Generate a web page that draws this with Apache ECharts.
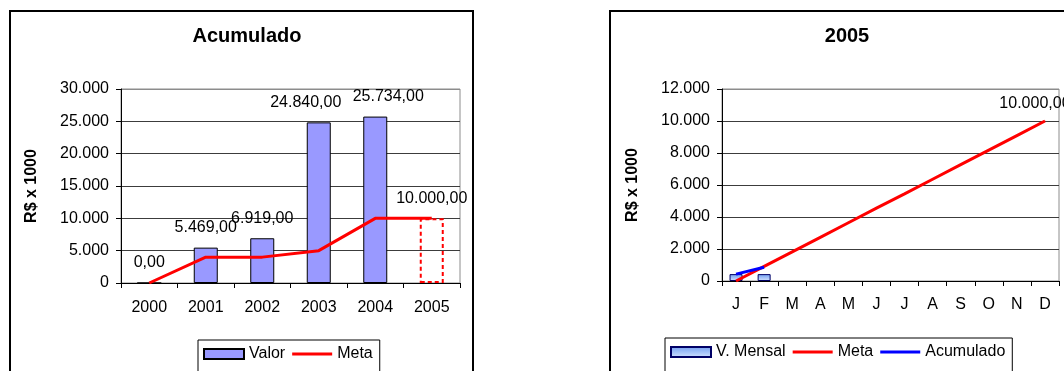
<!DOCTYPE html>
<html>
<head>
<meta charset="utf-8">
<title>Acumulado / 2005</title>
<script src="https://cdn.jsdelivr.net/npm/echarts@6.0.0/dist/echarts.min.js"></script>
<style>
	html, body { margin:0; padding:0; background:#fff; overflow:hidden; }
	#main { width:1064px; height:371px; }
</style>
</head>
<body>
<div id="main"></div>
<script>
// dados - grafico Acumulado
var anos = ['2000','2001','2002','2003','2004','2005'];
var valorAnual = [0, 5469, 6919, 24840, 25734, 10000];
var metaAnual = [0, 4000, 4000, 5000, 10000, 10000];
var ticksAcum = [0, 5000, 10000, 15000, 20000, 25000, 30000];

// dados - grafico 2005
var meses = ['J','F','M','A','M','J','J','A','S','O','N','D'];
var valorMensal = [430, 430];
var metaMensal = [0, 910, 1820, 2730, 3640, 4550, 5450, 6360, 7270, 8180, 9090, 10000];
var acumulado = [430, 860];
var ticksMes = [0, 2000, 4000, 6000, 8000, 10000, 12000];

var FONTE = '"Liberation Sans", Arial, sans-serif';
// icone de linha da legenda (traco fino)
var ICONE_LINHA = 'path://M0,0 L40,0 L40,3 L0,3 Z';

// formato brasileiro 10.000,00
var fmtBR = function(v, dec){
	var p = Number(v).toFixed(dec).split('.');
	p[0] = p[0].replace(/\B(?=(\d{3})+(?!\d))/g, '.');
	return p.join(',');
};

var eixoY = function(idx, ticks, nome){
	var cores = ticks.map(function(t, i){ return i === ticks.length - 1 ? '#8c8c8c' : '#3c3c3c'; });
	return {
		type:'value', gridIndex:idx,
		min:ticks[0], max:ticks[ticks.length-1], interval:ticks[1]-ticks[0],
		name:nome, nameLocation:'middle', nameRotate:90, nameGap:81,
		nameTextStyle:{fontFamily:FONTE, fontSize:16, fontWeight:'bold', color:'#000'},
		axisLine:{show:true, lineStyle:{color:'#000', width:1}},
		axisTick:{show:true, length:5, lineStyle:{color:'#000'}},
		axisLabel:{margin:12, fontFamily:FONTE, fontSize:16, color:'#000',
			formatter:function(v){ return fmtBR(v, 0); }},
		splitLine:{show:true, lineStyle:{color:cores, width:1}}
	};
};

var eixoX = function(idx, cats, margem){
	return {
		type:'category', gridIndex:idx, data:cats, boundaryGap:true,
		axisLine:{lineStyle:{color:'#000', width:1}},
		axisTick:{show:true, length:5, lineStyle:{color:'#000'}},
		axisLabel:{margin:margem, fontFamily:FONTE, fontSize:16, color:'#000'}
	};
};

var initChart = function(){
	var myChart = echarts.init(document.getElementById('main'), null, {renderer:'canvas'});

	// barra de 2005 tracejada (meta ainda nao realizada); rotulos de 2003/2004 afastados
	var dadosValor = valorAnual.map(function(v, i){
		if(anos[i] === '2005'){
			return {value:v, itemStyle:{color:'rgba(0,0,0,0)', borderColor:'#ff0000', borderWidth:2, borderType:[4,3]}};
		}
		if(anos[i] === '2003'){
			return {value:v, label:{offset:[-13,0]}};
		}
		if(anos[i] === '2004'){
			return {value:v, label:{offset:[13,0]}};
		}
		return v;
	});

	// rotulo so no ultimo ponto da meta mensal
	var dadosMeta = metaMensal.map(function(v, i){
		if(i === metaMensal.length - 1){
			return {value:v, symbol:'circle', symbolSize:1, label:{show:true}};
		}
		return v;
	});

	var option = {
		backgroundColor:'#fff',
		animation:false,
		title:[
			{text:'Acumulado', left:242, top:21, textAlign:'center',
				textStyle:{fontFamily:FONTE, fontSize:20, fontWeight:'bold', color:'#000'}},
			{text:'2005', left:842, top:21, textAlign:'center',
				textStyle:{fontFamily:FONTE, fontSize:20, fontWeight:'bold', color:'#000'}}
		],
		legend:[
			{data:[{name:'Valor', icon:'rect'}, {name:'Meta', icon:ICONE_LINHA}],
				left:198, top:340, itemWidth:40, itemHeight:10, itemGap:7,
				padding:[6,7,14,5], borderColor:'#000', borderWidth:1,
				textStyle:{fontFamily:FONTE, fontSize:16, color:'#000'}},
			{data:[{name:'V. Mensal', icon:'rect'}, {name:'Meta Mensal', icon:ICONE_LINHA}, {name:'Acumulado', icon:ICONE_LINHA}],
				left:665, top:338, itemWidth:40, itemHeight:10, itemGap:7,
				padding:[6,7,16,5], borderColor:'#000', borderWidth:1,
				formatter:function(n){ return n === 'Meta Mensal' ? 'Meta' : n; },
				textStyle:{fontFamily:FONTE, fontSize:16, color:'#000'}}
		],
		grid:[
			{left:121, top:89, width:339, height:194, show:true, borderColor:'#8c8c8c', borderWidth:1, backgroundColor:'#fff'},
			{left:722, top:89, width:337, height:192, show:true, borderColor:'#8c8c8c', borderWidth:1, backgroundColor:'#fff'}
		],
		xAxis:[eixoX(0, anos, 17), eixoX(1, meses, 16)],
		yAxis:[eixoY(0, ticksAcum, 'R$ x 1000'), eixoY(1, ticksMes, 'R$ x 1000')],
		graphic:[
			// molduras dos graficos
			{type:'rect', shape:{x:10, y:11, width:463, height:420}, style:{fill:null, stroke:'#000', lineWidth:2}, z:-1},
			{type:'rect', shape:{x:610, y:11, width:520, height:420}, style:{fill:null, stroke:'#000', lineWidth:2}, z:-1}
		],
		series:[
			{name:'Valor', type:'bar', xAxisIndex:0, yAxisIndex:0, data:dadosValor, barWidth:24,
				itemStyle:{color:'#9999ff', borderColor:'#000', borderWidth:1},
				label:{show:true, position:'top', distance:12, fontFamily:FONTE, fontSize:16, color:'#000',
					formatter:function(p){ return fmtBR(p.value, 2); }}},
			{name:'Meta', type:'line', xAxisIndex:0, yAxisIndex:0, data:metaAnual, symbol:'none',
				lineStyle:{color:'#ff0000', width:3}, itemStyle:{color:'#ff0000'}, z:5},
			{name:'V. Mensal', type:'bar', xAxisIndex:1, yAxisIndex:1, data:valorMensal, barWidth:13,
				itemStyle:{
					color:new echarts.graphic.LinearGradient(0, 0, 0, 1, [
						{offset:0, color:'#6f9cf0'}, {offset:1, color:'#d4e4ff'}
					]),
					borderColor:'#000066', borderWidth:1}},
			{name:'Meta Mensal', type:'line', xAxisIndex:1, yAxisIndex:1, data:dadosMeta, symbol:'none',
				lineStyle:{color:'#ff0000', width:3}, itemStyle:{color:'#ff0000'}, z:5,
				label:{show:false, position:'top', distance:9, offset:[-10,0], fontFamily:FONTE, fontSize:16, color:'#000',
					formatter:function(p){ return fmtBR(p.value, 2); }}},
			{name:'Acumulado', type:'line', xAxisIndex:1, yAxisIndex:1, data:acumulado, symbol:'none',
				lineStyle:{color:'#0000ff', width:3}, itemStyle:{color:'#0000ff'}, z:6}
		]
	};

	myChart.setOption(option);
};

window.onload = function(){
	initChart();
};
</script>
</body>
</html>
